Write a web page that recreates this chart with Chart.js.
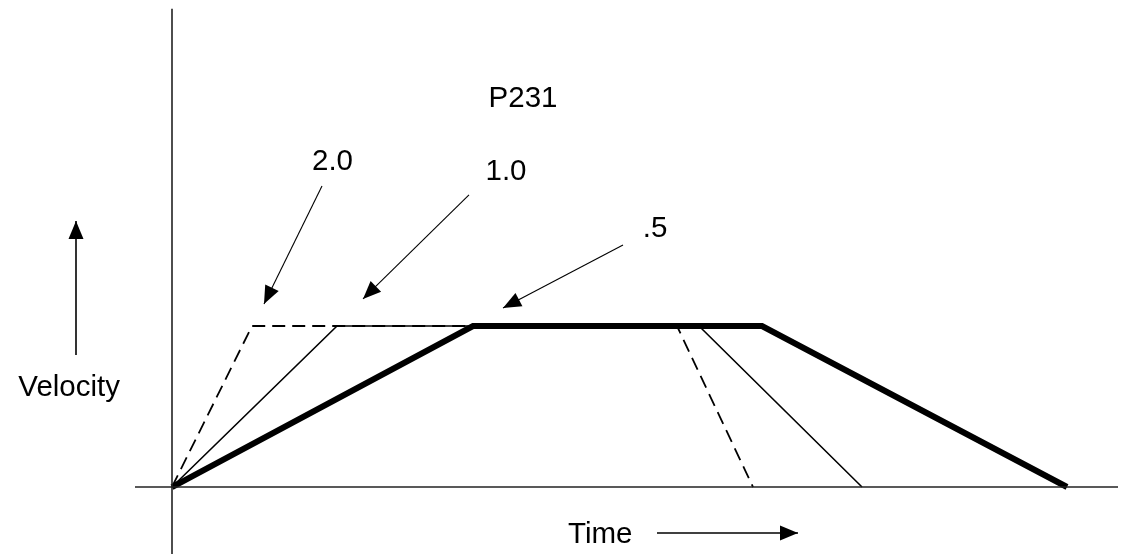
<!DOCTYPE html>
<html>
<head>
<meta charset="utf-8">
<script src="https://cdn.jsdelivr.net/npm/chart.js@4/dist/chart.umd.min.js"></script>
<style>
html,body{margin:0;padding:0;background:#fff;}
#wrap{width:1133px;height:554px;}
</style>
</head>
<body>
<div id="wrap"><canvas id="c" width="1133" height="554"></canvas></div>
<script>
// Velocity profiles (time, velocity) for P231 settings 2.0, 1.0 and .5
const timeFast = [0, 0.80, 5.05, 5.81];   // 2.0 (dashed)
const velFast  = [0, 1, 1, 0];
const timeMid  = [0, 1.65, 5.27, 6.90];   // 1.0 (thin)
const velMid   = [0, 1, 1, 0];
const timeSlow = [0, 3.01, 5.90, 8.95];   // .5 (thick)
const velSlow  = [0, 1, 1, 0];

// Axes
const vAxisT = [0, 0];        const vAxisV = [2.97, -0.42];
const hAxisT = [-0.37, 9.46]; const hAxisV = [0, 0];

// Pointer arrows: [startT, startV, tipT, tipV]
const arrow20 = [1.50, 1.870, 0.92, 1.137];
const arrow10 = [2.97, 1.814, 1.91, 1.168];
const arrow05 = [4.51, 1.503, 3.31, 1.112];
const arrowVel = [-0.96, 0.820, -0.96, 1.652];
const arrowTime = [4.85, -0.286, 6.26, -0.286];

// Labels
const labelTexts = ['P231', '2.0', '1.0', '.5', 'Velocity', 'Time'];
const labelT     = [3.51, 1.605, 3.34, 4.83, -0.52, 3.96];
const labelV     = [2.36, 1.968, 1.907, 1.553, 0.565, -0.345];
const labelAlign = ['center', 'center', 'center', 'center', 'right', 'left'];

const pts = (ts, vs) => ts.map((t, i) => ({x: t, y: vs[i]}));
const arrowPts = a => [{x: a[0], y: a[1]}, {x: a[2], y: a[3]}];

const base = {pointRadius: 0, fill: false, tension: 0, borderCapStyle: 'butt', borderJoinStyle: 'miter', clip: false};

const datasets = [
  {...base, data: pts(vAxisT, vAxisV), borderColor: '#222', borderWidth: 1.6},
  {...base, data: pts(hAxisT, hAxisV), borderColor: '#222', borderWidth: 1.6},
  {...base, data: pts(timeFast, velFast), borderColor: '#000', borderWidth: 1.8, borderDash: [13, 7]},
  {...base, data: pts(timeMid, velMid), borderColor: '#000', borderWidth: 1.6},
  {...base, data: pts(timeSlow, velSlow), borderColor: '#000', borderWidth: 6},
  {...base, data: arrowPts(arrow20), borderColor: '#000', borderWidth: 1.1, arrow: true},
  {...base, data: arrowPts(arrow10), borderColor: '#000', borderWidth: 1.1, arrow: true},
  {...base, data: arrowPts(arrow05), borderColor: '#000', borderWidth: 1.1, arrow: true},
  {...base, data: arrowPts(arrowVel), borderColor: '#000', borderWidth: 1.6, arrow: true},
  {...base, data: arrowPts(arrowTime), borderColor: '#000', borderWidth: 1.6, arrow: true}
];

const arrowHeads = {
  id: 'arrowHeads',
  afterDatasetsDraw(chart) {
    const ctx = chart.ctx;
    chart.data.datasets.forEach((ds, i) => {
      if (!ds.arrow) return;
      const meta = chart.getDatasetMeta(i);
      const p0 = meta.data[0], p1 = meta.data[meta.data.length - 1];
      const ang = Math.atan2(p1.y - p0.y, p1.x - p0.x);
      const len = 18, half = 7.5;
      ctx.save();
      ctx.fillStyle = '#000';
      ctx.translate(p1.x, p1.y);
      ctx.rotate(ang);
      ctx.beginPath();
      ctx.moveTo(0, 0);
      ctx.lineTo(-len, -half);
      ctx.lineTo(-len, half);
      ctx.closePath();
      ctx.fill();
      ctx.restore();
    });
  }
};

const labels = {
  id: 'labels',
  afterDraw(chart) {
    const ctx = chart.ctx, xs = chart.scales.x, ys = chart.scales.y;
    ctx.save();
    ctx.fillStyle = '#000';
    ctx.font = '29.5px "Liberation Sans", Arial, sans-serif';
    ctx.textBaseline = 'alphabetic';
    labelTexts.forEach((txt, i) => {
      ctx.textAlign = labelAlign[i];
      ctx.fillText(txt, xs.getPixelForValue(labelT[i]), ys.getPixelForValue(labelV[i]));
    });
    ctx.restore();
  }
};

new Chart(document.getElementById('c'), {
  type: 'line',
  data: {datasets},
  options: {
    responsive: false,
    animation: false,
    events: [],
    layout: {padding: 0},
    plugins: {legend: {display: false}, tooltip: {enabled: false}, title: {display: false}},
    scales: {
      x: {type: 'linear', min: -1.72, max: 9.61, display: false},
      y: {type: 'linear', min: -0.416, max: 3.025, display: false}
    }
  },
  plugins: [arrowHeads, labels]
});
</script>
</body>
</html>
